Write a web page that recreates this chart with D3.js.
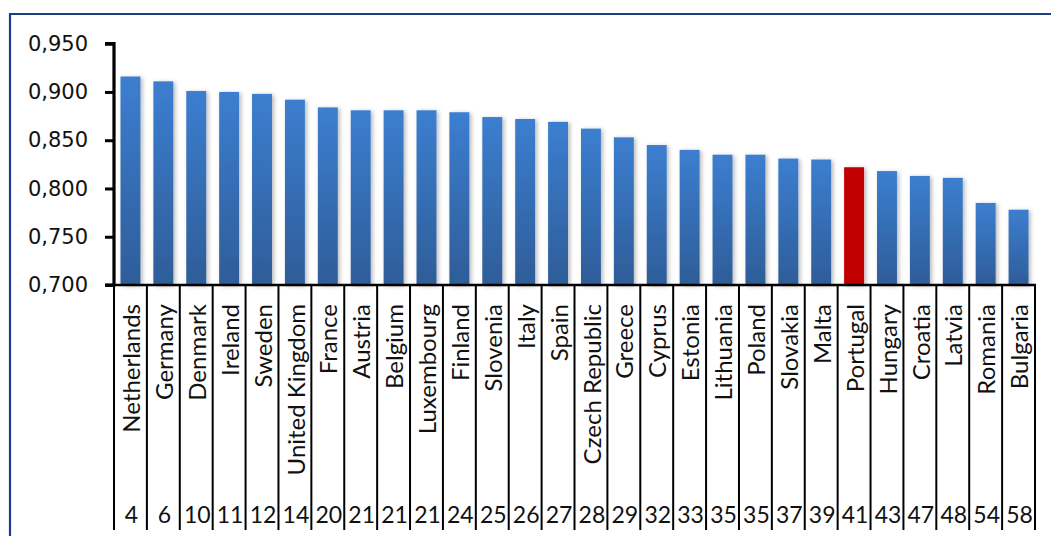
<!DOCTYPE html>
<html>
<head>
<meta charset="utf-8">
<script src="https://cdn.jsdelivr.net/npm/d3@7"></script>
<style>
  html, body { margin: 0; padding: 0; background: #fff; }
  svg { display: block; }
</style>
</head>
<body>
<svg id="chart" width="1051" height="536"></svg>
<script>
// Index values by country (sorted), with each country's rank
const countries = ["Netherlands", "Germany", "Denmark", "Ireland", "Sweden", "United Kingdom", "France",
  "Austria", "Belgium", "Luxembourg", "Finland", "Slovenia", "Italy", "Spain", "Czech Republic", "Greece",
  "Cyprus", "Estonia", "Lithuania", "Poland", "Slovakia", "Malta", "Portugal", "Hungary", "Croatia",
  "Latvia", "Romania", "Bulgaria"];
const values = [0.916, 0.911, 0.901, 0.900, 0.898, 0.892, 0.884,
  0.881, 0.881, 0.881, 0.879, 0.874, 0.872, 0.869, 0.862, 0.853,
  0.845, 0.840, 0.835, 0.835, 0.831, 0.830, 0.822, 0.818, 0.813,
  0.811, 0.785, 0.778];
const ranks = [4, 6, 10, 11, 12, 14, 20, 21, 21, 21, 24, 25, 26, 27, 28, 29, 32, 33, 35, 35, 37, 39, 41, 43, 47, 48, 54, 58];
const yTicks = [0.700, 0.750, 0.800, 0.850, 0.900, 0.950];
const highlight = "Portugal";

const data = countries.map((c, i) => ({ country: c, value: values[i], rank: ranks[i] }));

const svg = d3.select("#chart");
const plotLeft = 114, plotRight = 1035, plotTop = 43.7, plotBase = 285;

const x = d3.scaleBand().domain(countries).range([plotLeft, plotRight]).paddingInner(0.394).paddingOuter(0.197);
const y = d3.scaleLinear().domain([0.7, 0.95]).range([plotBase, plotTop]);
const step = x.step();

const defs = svg.append("defs");
const grad = defs.append("linearGradient").attr("id", "barGrad")
  .attr("x1", 0).attr("y1", 0).attr("x2", 0).attr("y2", 1);
grad.append("stop").attr("offset", "0%").attr("stop-color", "#3C7ED0");
grad.append("stop").attr("offset", "100%").attr("stop-color", "#2E5D98");

const shadow = defs.append("filter").attr("id", "barShadow")
  .attr("x", "-50%").attr("y", "-10%").attr("width", "200%").attr("height", "120%");
shadow.append("feDropShadow").attr("dx", 2).attr("dy", 1).attr("stdDeviation", 2.2)
  .attr("flood-color", "#000").attr("flood-opacity", 0.28);

const gridShadow = defs.append("filter").attr("id", "gridShadow")
  .attr("x", "-5%").attr("y", "-200%").attr("width", "110%").attr("height", "500%");
gridShadow.append("feDropShadow").attr("dx", 0).attr("dy", 1.5).attr("stdDeviation", 0.8)
  .attr("flood-color", "#000").attr("flood-opacity", 0.15);

// Outer frame
svg.append("path")
  .attr("d", "M10,536 L10,14 L1051,14")
  .attr("fill", "none").attr("stroke", "#1F3C88").attr("stroke-width", 2.2);

// Horizontal gridlines
svg.append("g").selectAll("line").data(yTicks.slice(1)).join("line")
  .attr("x1", plotLeft).attr("x2", plotRight)
  .attr("y1", d => y(d)).attr("y2", d => y(d))
  .attr("stroke", "#8C8C8C").attr("stroke-width", 1.6)
  .attr("filter", "url(#gridShadow)");

// Bars
svg.append("g").selectAll("rect").data(data).join("rect")
  .attr("x", d => x(d.country))
  .attr("y", d => y(d.value))
  .attr("width", x.bandwidth())
  .attr("height", d => y(0.7) - y(d.value))
  .attr("fill", d => d.country === highlight ? "#C00000" : "url(#barGrad)")
  .attr("filter", "url(#barShadow)");

// Y axis
const yAxis = d3.axisLeft(y).tickValues(yTicks).tickSize(9).tickPadding(17)
  .tickFormat(d => d3.format(".3f")(d).replace(".", ","));
const gy = svg.append("g").attr("transform", `translate(${plotLeft},0)`).call(yAxis);
gy.select(".domain").attr("stroke", "#000").attr("stroke-width", 3.2)
  .attr("d", `M-9,${plotTop}H0V${plotBase}H-9`);
gy.selectAll(".tick line").attr("stroke", "#000").attr("stroke-width", 3);
gy.selectAll(".tick text")
  .attr("font-family", "DejaVu Sans, Verdana, sans-serif")
  .attr("font-size", "21px").attr("fill", "#111");

// X axis line
svg.append("line").attr("x1", plotLeft - 9).attr("x2", plotRight + 1)
  .attr("y1", plotBase).attr("y2", plotBase)
  .attr("stroke", "#000").attr("stroke-width", 2.4);

// Category table dividers
const bounds = d3.range(countries.length + 1).map(i => plotLeft + i * step);
svg.append("g").selectAll("line").data(bounds).join("line")
  .attr("x1", d => d).attr("x2", d => d)
  .attr("y1", plotBase).attr("y2", 530)
  .attr("stroke", "#000").attr("stroke-width", 2);

// Country names (rotated)
svg.append("g").selectAll("text").data(data).join("text")
  .attr("transform", d => `translate(${x(d.country) + x.bandwidth() / 2 + 1},304) rotate(-90)`)
  .attr("text-anchor", "end")
  .attr("dy", "0.36em")
  .attr("font-family", "Lato, 'Open Sans', sans-serif")
  .attr("font-size", "24px").attr("fill", "#111")
  .text(d => d.country);

// Rank numbers
svg.append("g").selectAll("text").data(data).join("text")
  .attr("x", d => x(d.country) + x.bandwidth() / 2 + 1)
  .attr("y", 523)
  .attr("text-anchor", "middle")
  .attr("font-family", "Lato, 'Open Sans', sans-serif")
  .attr("font-size", "23px").attr("fill", "#111")
  .text(d => d.rank);
</script>
</body>
</html>
